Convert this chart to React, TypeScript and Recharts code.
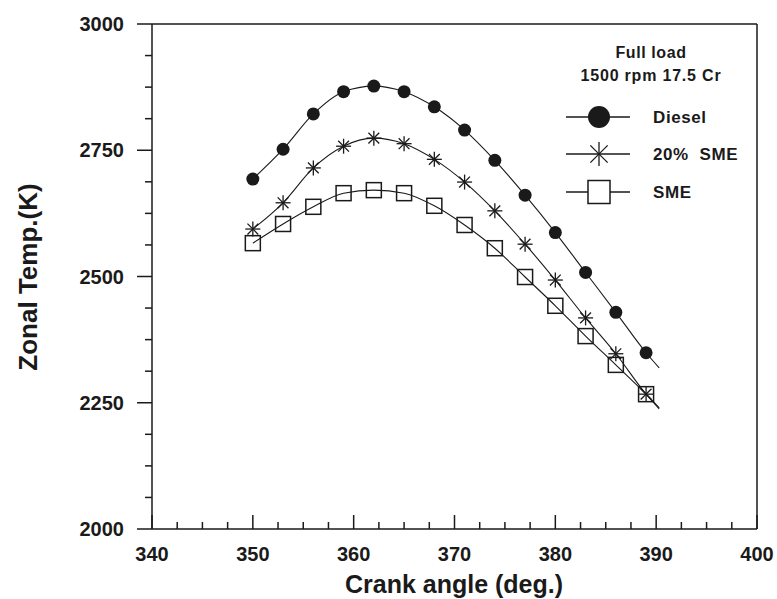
import React from "react";
import { LineChart, Line, XAxis, YAxis, ReferenceLine } from "recharts";

// crank angle (deg.) where the markers sit
const crankAngles = [350, 353, 356, 359, 362, 365, 368, 371, 374, 377, 380, 383, 386, 389];

// zonal temperature (K)
const dieselTemp = [2693, 2752, 2822, 2866, 2877, 2866, 2836, 2790, 2730, 2661, 2587, 2508, 2429, 2349];
const sme20Temp = [2594, 2646, 2715, 2758, 2774, 2763, 2732, 2687, 2630, 2564, 2493, 2418, 2347, 2267];
const smeTemp = [2566, 2604, 2638, 2665, 2671, 2665, 2640, 2602, 2556, 2499, 2442, 2382, 2325, 2267];

// the fitted curves run a little past the last marker
const curveEndAngle = 390.3;
const dieselEnd = 2319;
const sme20End = 2238;
const smeEnd = 2240;

const xMajorTicks = [340, 350, 360, 370, 380, 390, 400];
const yMajorTicks = [2000, 2250, 2500, 2750, 3000];

// 3 minor ticks between majors
const withMinors = (majors: number[]) => {
  const out: number[] = [];
  majors.forEach((m, i) => {
    out.push(m);
    if (i < majors.length - 1) {
      const step = (majors[i + 1] - m) / 4;
      for (let k = 1; k < 4; k++) out.push(m + step * k);
    }
  });
  return out;
};
const xTicks = withMinors(xMajorTicks);
const yTicks = withMinors(yMajorTicks);

const data = [
  ...crankAngles.map((angle, i) => ({
    angle,
    diesel: dieselTemp[i],
    sme20: sme20Temp[i],
    sme: smeTemp[i],
  })),
  { angle: curveEndAngle, diesel: dieselEnd, sme20: sme20End, sme: smeEnd, end: true },
];

const FONT = "'Liberation Sans', Arial, Helvetica, sans-serif";
const INK = "#1a1a1a";

const XTick = (props: any) => {
  const { x, y, payload } = props;
  const major = xMajorTicks.includes(payload.value);
  return (
    <g>
      <line x1={x} x2={x} y1={y} y2={y - (major ? 14 : 7)} stroke={INK} strokeWidth={1.5} />
      {major && (
        <text x={x} y={y + 25} textAnchor="middle" dominantBaseline="central"
          fontFamily={FONT} fontWeight={700} fontSize={20} fill={INK}>
          {payload.value}
        </text>
      )}
    </g>
  );
};

const YTick = (props: any) => {
  const { x, y, payload } = props;
  const major = yMajorTicks.includes(payload.value);
  return (
    <g>
      <line x1={x} x2={x - (major ? 15 : 7)} y1={y} y2={y} stroke={INK} strokeWidth={1.5} />
      {major && (
        <text x={x - 28} y={y} textAnchor="end" dominantBaseline="central"
          fontFamily={FONT} fontWeight={700} fontSize={20} fill={INK}>
          {payload.value}
        </text>
      )}
    </g>
  );
};

const Circle = ({ cx, cy, r }: any) => <circle cx={cx} cy={cy} r={r} fill={INK} stroke="none" />;

const Star = ({ cx, cy, r, horiz = true }: any) => {
  const d = r * 0.72;
  return (
    <g stroke={INK} strokeWidth={1.3}>
      <line x1={cx} y1={cy - r} x2={cx} y2={cy + r} />
      {horiz && <line x1={cx - r} y1={cy} x2={cx + r} y2={cy} />}
      <line x1={cx - d} y1={cy - d} x2={cx + d} y2={cy + d} />
      <line x1={cx - d} y1={cy + d} x2={cx + d} y2={cy - d} />
    </g>
  );
};

const Square = ({ cx, cy, s }: any) => (
  <rect x={cx - s / 2} y={cy - s / 2} width={s} height={s} fill="none" stroke={INK} strokeWidth={1.5} />
);

const dotRenderer = (kind: string) => (props: any) => {
  const { cx, cy, index, payload } = props;
  const key = `${kind}-${index}`;
  if (payload.end || cx == null || cy == null) return <g key={key} />;
  if (kind === "diesel") return <g key={key}><Circle cx={cx} cy={cy} r={6.5} /></g>;
  if (kind === "sme20") return <g key={key}><Star cx={cx} cy={cy} r={7.5} /></g>;
  return <g key={key}><Square cx={cx} cy={cy} s={15} /></g>;
};

export default function App() {
  const legendRows = [
    { label: "Diesel", y: 117 },
    { label: "20%  SME", y: 154 },
    { label: "SME", y: 192 },
  ];

  return (
    <div style={{ position: "absolute", left: 0, top: 0, width: 777, height: 599, background: "#fff" }}>
      <LineChart width={777} height={599} data={data} margin={{ top: 24, right: 20, left: 0, bottom: 0 }}>
        <XAxis
          type="number"
          dataKey="angle"
          domain={[340, 400]}
          ticks={xTicks}
          interval={0}
          height={70}
          tickSize={0}
          tickMargin={0}
          tick={(p: any) => <XTick {...p} />}
          axisLine={{ stroke: INK, strokeWidth: 1.5 }}
          tickLine={false}
          allowDataOverflow
        />
        <YAxis
          type="number"
          domain={[2000, 3000]}
          ticks={yTicks}
          interval={0}
          width={152}
          tickSize={0}
          tickMargin={0}
          tick={(p: any) => <YTick {...p} />}
          axisLine={{ stroke: INK, strokeWidth: 1.5 }}
          tickLine={false}
          allowDataOverflow
        />
        <ReferenceLine y={3000} stroke={INK} strokeWidth={1.5} />
        <ReferenceLine x={400} stroke={INK} strokeWidth={1.5} />
        <Line type="monotone" dataKey="diesel" stroke={INK} strokeWidth={1.1}
          dot={dotRenderer("diesel")} activeDot={false} isAnimationActive={false} />
        <Line type="monotone" dataKey="sme20" stroke={INK} strokeWidth={1.1}
          dot={dotRenderer("sme20")} activeDot={false} isAnimationActive={false} />
        <Line type="monotone" dataKey="sme" stroke={INK} strokeWidth={1.1}
          dot={dotRenderer("sme")} activeDot={false} isAnimationActive={false} />
      </LineChart>

      {/* axis titles and the in-plot legend */}
      <svg width={777} height={599} style={{ position: "absolute", left: 0, top: 0, pointerEvents: "none" }}>
        <text x={454} y={584} textAnchor="middle" dominantBaseline="central"
          fontFamily={FONT} fontWeight={700} fontSize={25} fill={INK}>
          Crank angle (deg.)
        </text>
        <text x={28} y={277} textAnchor="middle" dominantBaseline="central"
          transform="rotate(-90 28 277)"
          fontFamily={FONT} fontWeight={700} fontSize={26} fill={INK}>
          Zonal Temp.(K)
        </text>

        <text x={651} y={52} textAnchor="middle" dominantBaseline="central"
          fontFamily={FONT} fontWeight={700} fontSize={16} fill={INK} letterSpacing={0.6}>
          Full load
        </text>
        <text x={651} y={75} textAnchor="middle" dominantBaseline="central"
          fontFamily={FONT} fontWeight={700} fontSize={16} fill={INK} letterSpacing={0.8}>
          1500 rpm 17.5 Cr
        </text>

        {legendRows.map((row, i) => (
          <g key={row.label}>
            <line x1={566} x2={630} y1={row.y} y2={row.y} stroke={INK} strokeWidth={1.3} />
            {i === 0 && <Circle cx={599} cy={row.y} r={11} />}
            {i === 1 && <Star cx={599} cy={row.y} r={12} horiz={false} />}
            {i === 2 && (
              <rect x={588} y={row.y - 11.5} width={22} height={23} fill="#fff" stroke={INK} strokeWidth={1.5} />
            )}
            <text x={653} y={row.y} dominantBaseline="central" fontFamily={FONT} fontWeight={700}
              fontSize={17} fill={INK} letterSpacing={0.6} style={{ whiteSpace: "pre" }}>
              {row.label}
            </text>
          </g>
        ))}
      </svg>
    </div>
  );
}
